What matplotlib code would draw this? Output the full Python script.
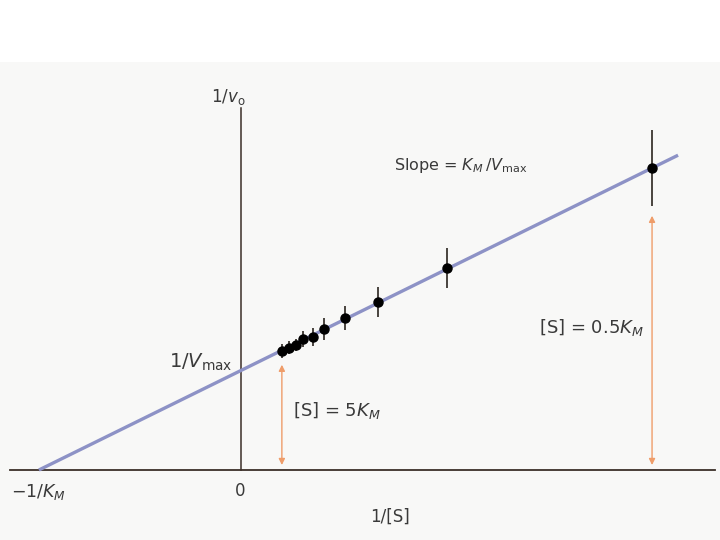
import matplotlib.pyplot as plt
from matplotlib.patches import Rectangle

# Lineweaver-Burk plot; x in units of 1/K_M, y in units of 1/V_max
inv_s = [0.205, 0.240, 0.275, 0.309, 0.359, 0.414, 0.518, 0.681, 1.024, 2.041]
inv_v = [1.198, 1.229, 1.259, 1.319, 1.339, 1.420, 1.531, 1.692, 2.034, 3.041]
err = [0.075, 0.065, 0.065, 0.08, 0.09, 0.11, 0.12, 0.155, 0.20, 0.38]

fit_x = [-1.0, 2.17]
fit_y = [0.0, 3.17]

line_col = '#8d92c6'
axis_col = '#3b2f28'
arrow_col = '#ef9d6a'
text_col = '#3a3a3a'

fig = plt.figure(figsize=(7.2, 5.4), dpi=100)
ax = fig.add_axes([0, 0, 1, 1])
ax.set_xlim(-1.193, 2.378)
ax.set_ylim(-0.705, 4.733)
ax.axis('off')

# faint scanned-page tint below the top margin
ax.add_patch(Rectangle((0, 0), 1, 0.885, transform=ax.transAxes,
                       facecolor='#f8f8f7', edgecolor='none', zorder=0))

# axes
ax.plot([-1.144, 2.353], [0, 0], color=axis_col, lw=1.3, zorder=2)
ax.plot([0, 0], [0, 3.645], color=axis_col, lw=1.1, zorder=2)

# fitted line and data
ax.plot(fit_x, fit_y, color=line_col, lw=2.4, solid_capstyle='butt', zorder=3)
ax.errorbar(inv_s, inv_v, yerr=err, fmt='o', color='black', ms=6.5,
            ecolor='#2b2520', elinewidth=1.2, capsize=0, zorder=4)

# concentration arrows
for xa, ytop in [(inv_s[0], 1.06), (inv_s[-1], 2.56)]:
    ax.annotate('', xy=(xa, 0.05), xytext=(xa, ytop),
                arrowprops=dict(arrowstyle='<|-|>', color=arrow_col, lw=1.0,
                                mutation_scale=9, shrinkA=0, shrinkB=0))

# labels
ax.text(-0.06, 3.76, r'1/$v_{\rm o}$', fontsize=12, color=text_col,
        ha='center', va='center')
ax.text(-0.04, 1.08, r'1/$V_{\rm max}$', fontsize=14, color=text_col,
        ha='right', va='center')
ax.text(0.76, 3.07, r'Slope = $K_M\,/V_{\rm max}$', fontsize=11.5,
        color=text_col, ha='left', va='center')
ax.text(0.26, 0.60, r'[S] = 5$K_M$', fontsize=13, color=text_col,
        ha='left', va='center')
ax.text(2.0, 1.43, r'[S] = 0.5$K_M$', fontsize=13, color=text_col,
        ha='right', va='center')
ax.text(-1.0, -0.22, r'$-$1/$K_M$', fontsize=12.5, color=text_col,
        ha='center', va='center')
ax.text(0.0, -0.21, '0', fontsize=12, color=text_col, ha='center', va='center')
ax.text(0.74, -0.47, '1/[S]', fontsize=12, color=text_col,
        ha='center', va='center')

plt.savefig('out.png', dpi=100)
